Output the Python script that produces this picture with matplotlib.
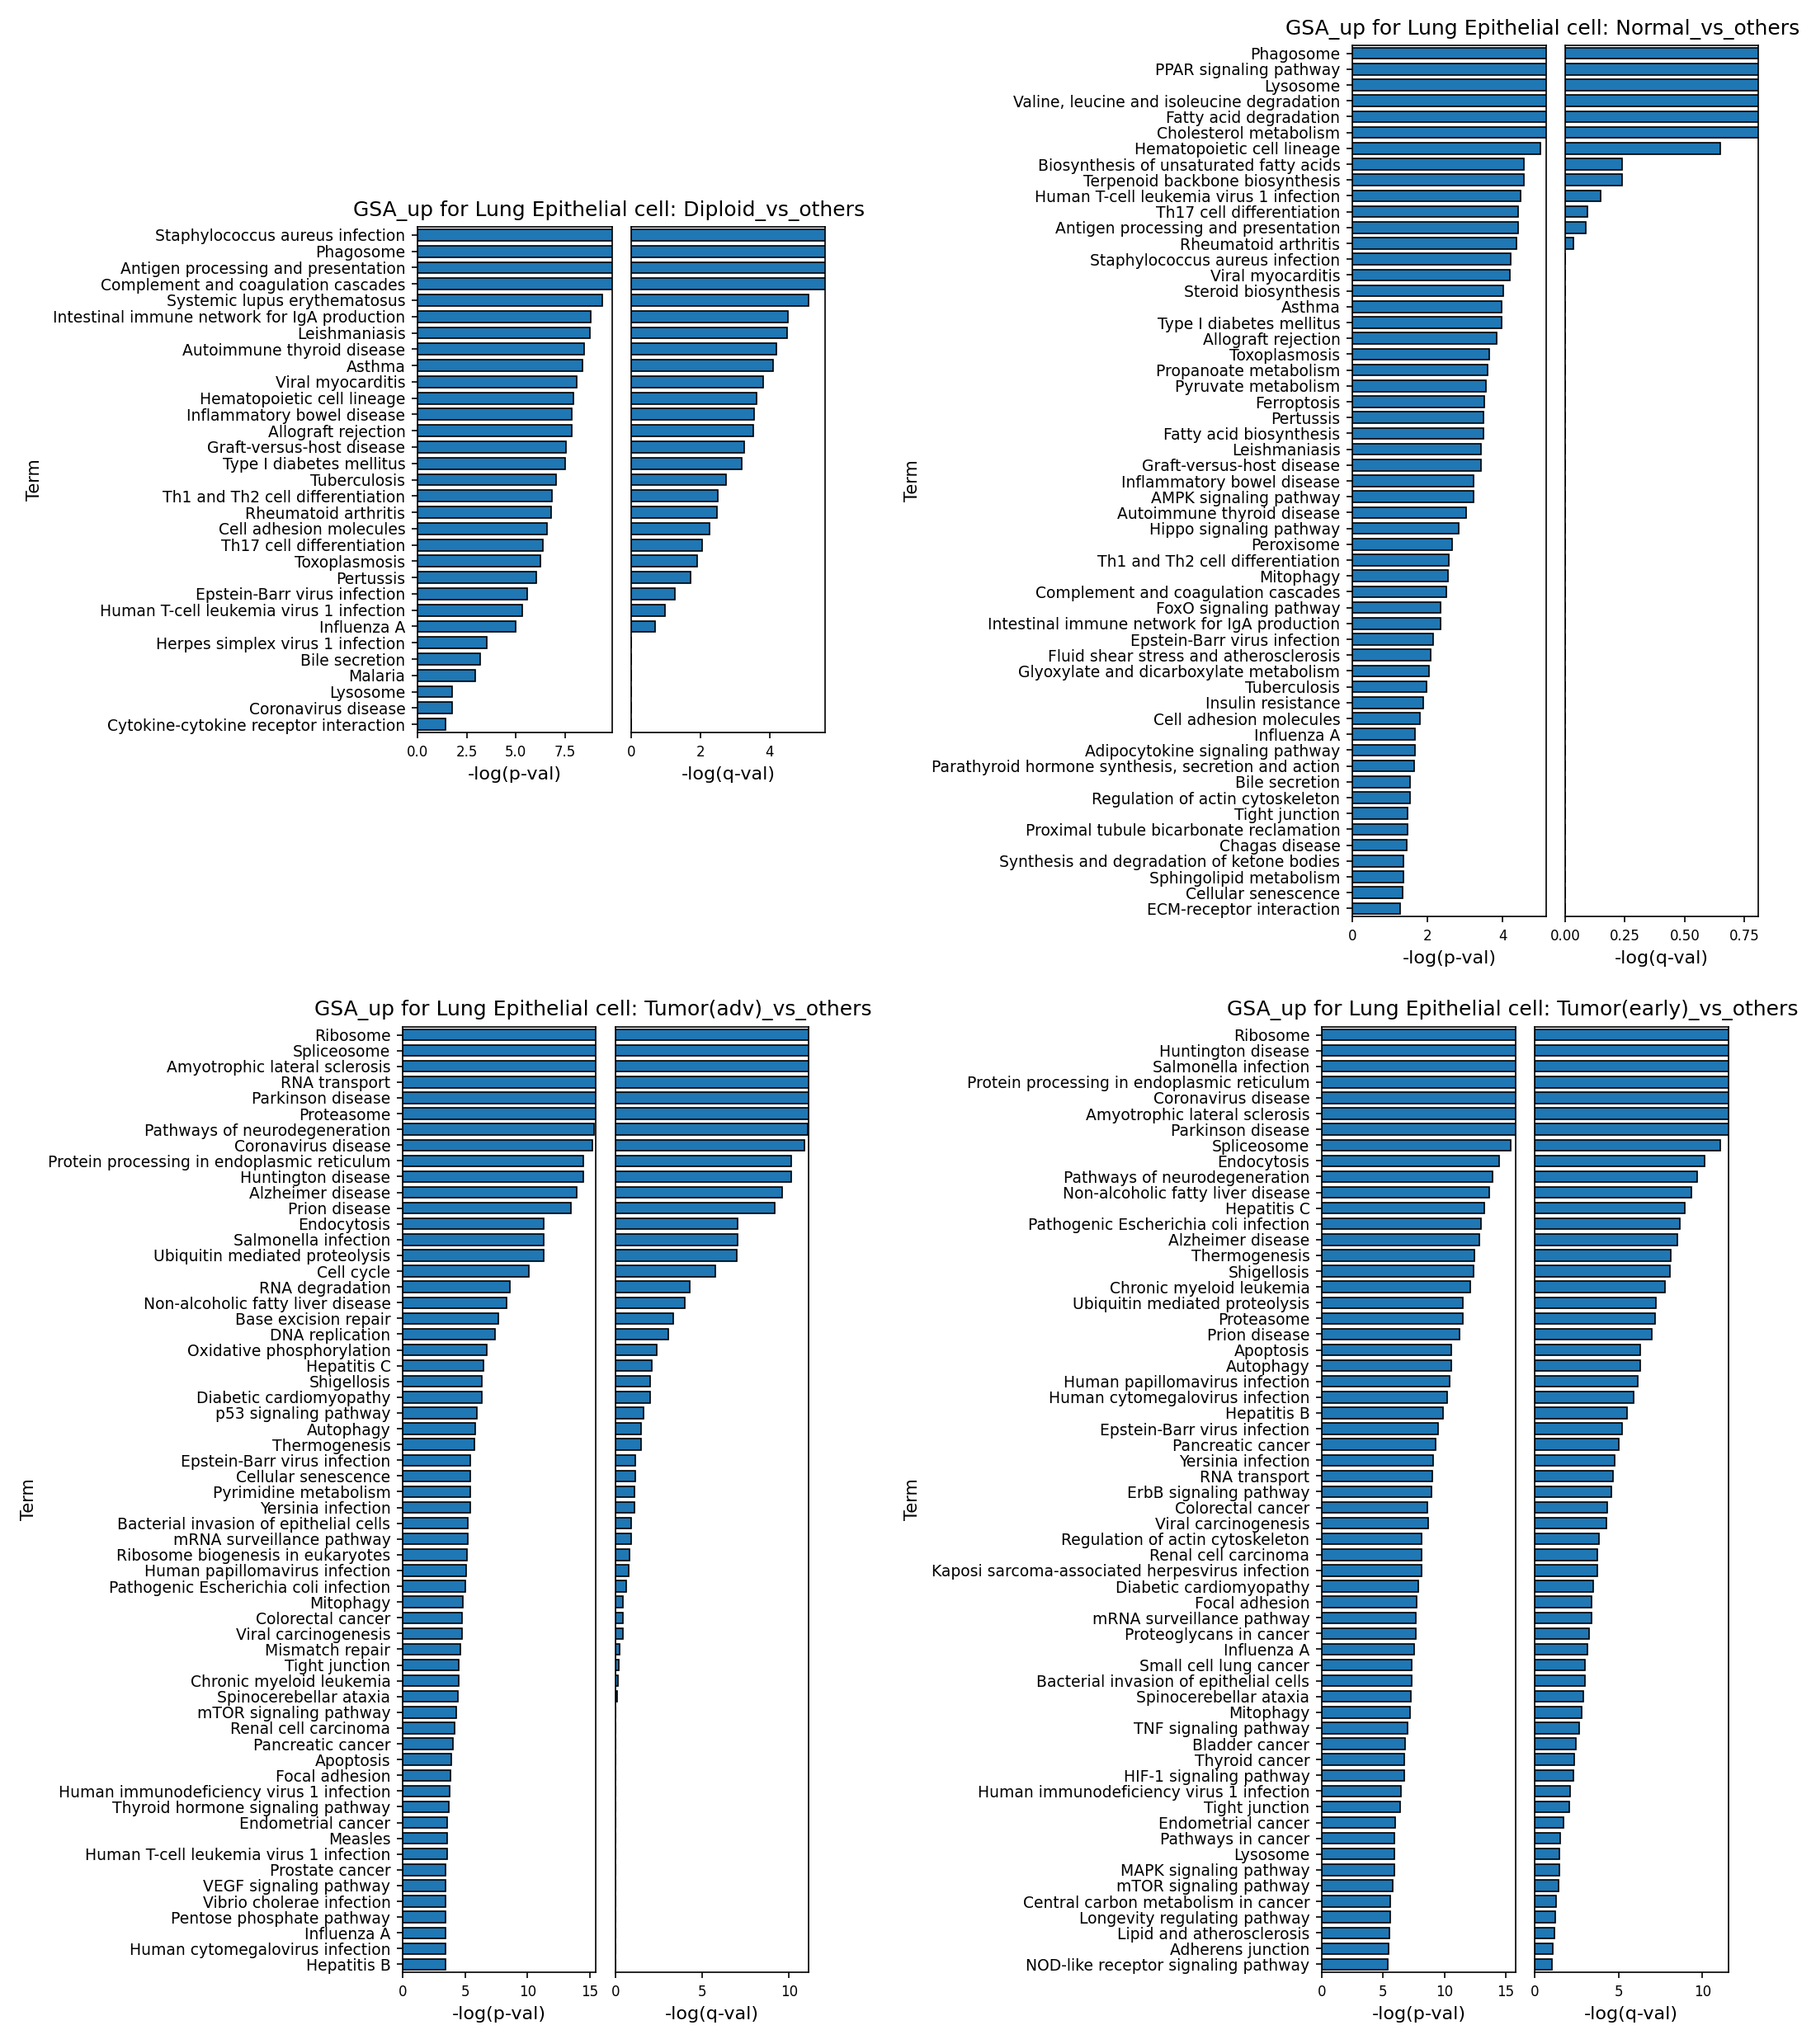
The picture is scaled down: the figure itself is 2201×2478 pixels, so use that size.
"""
GSA_up bar charts for Lung Epithelial cell (4 comparisons)
"""
import numpy as np
import matplotlib
matplotlib.use('Agg')
import matplotlib.pyplot as plt

INF = np.inf  # off-scale values (bar runs past the axis edge)

# ============================================================
# Diploid_vs_others
# ============================================================
diploid_terms = [
    'Staphylococcus aureus infection', 'Phagosome', 'Antigen processing and presentation',
    'Complement and coagulation cascades', 'Systemic lupus erythematosus',
    'Intestinal immune network for IgA production', 'Leishmaniasis', 'Autoimmune thyroid disease',
    'Asthma', 'Viral myocarditis', 'Hematopoietic cell lineage', 'Inflammatory bowel disease',
    'Allograft rejection', 'Graft-versus-host disease', 'Type I diabetes mellitus', 'Tuberculosis',
    'Th1 and Th2 cell differentiation', 'Rheumatoid arthritis', 'Cell adhesion molecules',
    'Th17 cell differentiation', 'Toxoplasmosis', 'Pertussis', 'Epstein-Barr virus infection',
    'Human T-cell leukemia virus 1 infection', 'Influenza A', 'Herpes simplex virus 1 infection',
    'Bile secretion', 'Malaria', 'Lysosome', 'Coronavirus disease',
    'Cytokine-cytokine receptor interaction',
]
diploid_p = [INF, INF, INF, INF, 9.42, 8.83, 8.77, 8.49, 8.38, 8.10, 7.93, 7.84, 7.84, 7.56,
             7.50, 7.05, 6.85, 6.79, 6.60, 6.37, 6.26, 6.03, 5.58, 5.32, 5.01, 3.54, 3.20,
             2.92, 1.75, 1.75, 1.42]
diploid_q = [INF, INF, INF, INF, 5.13, 4.53, 4.50, 4.21, 4.10, 3.82, 3.63, 3.56, 3.53, 3.27,
             3.21, 2.74, 2.50, 2.48, 2.26, 2.06, 1.92, 1.71, 1.26, 0.98, 0.69, 0, 0, 0, 0, 0, 0]

# ============================================================
# Normal_vs_others
# ============================================================
normal_terms = [
    'Phagosome', 'PPAR signaling pathway', 'Lysosome', 'Valine, leucine and isoleucine degradation',
    'Fatty acid degradation', 'Cholesterol metabolism', 'Hematopoietic cell lineage',
    'Biosynthesis of unsaturated fatty acids', 'Terpenoid backbone biosynthesis',
    'Human T-cell leukemia virus 1 infection', 'Th17 cell differentiation',
    'Antigen processing and presentation', 'Rheumatoid arthritis', 'Staphylococcus aureus infection',
    'Viral myocarditis', 'Steroid biosynthesis', 'Asthma', 'Type I diabetes mellitus',
    'Allograft rejection', 'Toxoplasmosis', 'Propanoate metabolism', 'Pyruvate metabolism',
    'Ferroptosis', 'Pertussis', 'Fatty acid biosynthesis', 'Leishmaniasis',
    'Graft-versus-host disease', 'Inflammatory bowel disease', 'AMPK signaling pathway',
    'Autoimmune thyroid disease', 'Hippo signaling pathway', 'Peroxisome',
    'Th1 and Th2 cell differentiation', 'Mitophagy', 'Complement and coagulation cascades',
    'FoxO signaling pathway', 'Intestinal immune network for IgA production',
    'Epstein-Barr virus infection', 'Fluid shear stress and atherosclerosis',
    'Glyoxylate and dicarboxylate metabolism', 'Tuberculosis', 'Insulin resistance',
    'Cell adhesion molecules', 'Influenza A', 'Adipocytokine signaling pathway',
    'Parathyroid hormone synthesis, secretion and action', 'Bile secretion',
    'Regulation of actin cytoskeleton', 'Tight junction', 'Proximal tubule bicarbonate reclamation',
    'Chagas disease', 'Synthesis and degradation of ketone bodies', 'Sphingolipid metabolism',
    'Cellular senescence', 'ECM-receptor interaction',
]
normal_p = [INF, INF, INF, INF, INF, INF, 5.00, 4.57, 4.57, 4.48, 4.42, 4.42, 4.37, 4.22, 4.19,
            4.02, 3.97, 3.97, 3.85, 3.64, 3.60, 3.55, 3.51, 3.49, 3.49, 3.43, 3.43, 3.23, 3.23,
            3.04, 2.84, 2.66, 2.56, 2.55, 2.50, 2.36, 2.35, 2.16, 2.08, 2.05, 1.98, 1.88, 1.79,
            1.67, 1.67, 1.64, 1.53, 1.53, 1.48, 1.47, 1.44, 1.37, 1.37, 1.33, 1.28]
normal_q = [INF, INF, INF, INF, INF, INF, 0.648, 0.238, 0.238, 0.148, 0.092, 0.087, 0.036] + [0] * 42

# ============================================================
# Tumor(adv)_vs_others
# ============================================================
adv_terms = [
    'Ribosome', 'Spliceosome', 'Amyotrophic lateral sclerosis', 'RNA transport', 'Parkinson disease',
    'Proteasome', 'Pathways of neurodegeneration', 'Coronavirus disease',
    'Protein processing in endoplasmic reticulum', 'Huntington disease', 'Alzheimer disease',
    'Prion disease', 'Endocytosis', 'Salmonella infection', 'Ubiquitin mediated proteolysis',
    'Cell cycle', 'RNA degradation', 'Non-alcoholic fatty liver disease', 'Base excision repair',
    'DNA replication', 'Oxidative phosphorylation', 'Hepatitis C', 'Shigellosis',
    'Diabetic cardiomyopathy', 'p53 signaling pathway', 'Autophagy', 'Thermogenesis',
    'Epstein-Barr virus infection', 'Cellular senescence', 'Pyrimidine metabolism',
    'Yersinia infection', 'Bacterial invasion of epithelial cells', 'mRNA surveillance pathway',
    'Ribosome biogenesis in eukaryotes', 'Human papillomavirus infection',
    'Pathogenic Escherichia coli infection', 'Mitophagy', 'Colorectal cancer',
    'Viral carcinogenesis', 'Mismatch repair', 'Tight junction', 'Chronic myeloid leukemia',
    'Spinocerebellar ataxia', 'mTOR signaling pathway', 'Renal cell carcinoma', 'Pancreatic cancer',
    'Apoptosis', 'Focal adhesion', 'Human immunodeficiency virus 1 infection',
    'Thyroid hormone signaling pathway', 'Endometrial cancer', 'Measles',
    'Human T-cell leukemia virus 1 infection', 'Prostate cancer', 'VEGF signaling pathway',
    'Vibrio cholerae infection', 'Pentose phosphate pathway', 'Influenza A',
    'Human cytomegalovirus infection', 'Hepatitis B',
]
adv_p = [INF, INF, INF, INF, INF, INF, 15.31, 15.18, 14.47, 14.43, 13.94, 13.49, 11.32, 11.32,
         11.27, 10.08, 8.61, 8.34, 7.68, 7.41, 6.75, 6.44, 6.35, 6.35, 5.95, 5.81, 5.77, 5.41,
         5.41, 5.41, 5.41, 5.24, 5.24, 5.15, 5.10, 5.02, 4.84, 4.75, 4.75, 4.62, 4.48, 4.48,
         4.44, 4.31, 4.17, 4.04, 3.91, 3.82, 3.77, 3.68, 3.55, 3.55, 3.55, 3.46, 3.46, 3.46,
         3.46, 3.43, 3.43, 3.43]
adv_q = [INF, INF, INF, INF, INF, INF, 11.06, 10.90, 10.13, 10.10, 9.62, 9.17, 7.02, 7.02, 6.99,
         5.74, 4.29, 4.01, 3.33, 3.04, 2.37, 2.08, 1.99, 1.99, 1.60, 1.47, 1.47, 1.12, 1.12, 1.09,
         1.09, 0.90, 0.90, 0.80, 0.74, 0.64, 0.45, 0.45, 0.42, 0.26, 0.19, 0.13, 0.10] + [0] * 17

# ============================================================
# Tumor(early)_vs_others
# ============================================================
early_terms = [
    'Ribosome', 'Huntington disease', 'Salmonella infection',
    'Protein processing in endoplasmic reticulum', 'Coronavirus disease',
    'Amyotrophic lateral sclerosis', 'Parkinson disease', 'Spliceosome', 'Endocytosis',
    'Pathways of neurodegeneration', 'Non-alcoholic fatty liver disease', 'Hepatitis C',
    'Pathogenic Escherichia coli infection', 'Alzheimer disease', 'Thermogenesis', 'Shigellosis',
    'Chronic myeloid leukemia', 'Ubiquitin mediated proteolysis', 'Proteasome', 'Prion disease',
    'Apoptosis', 'Autophagy', 'Human papillomavirus infection', 'Human cytomegalovirus infection',
    'Hepatitis B', 'Epstein-Barr virus infection', 'Pancreatic cancer', 'Yersinia infection',
    'RNA transport', 'ErbB signaling pathway', 'Colorectal cancer', 'Viral carcinogenesis',
    'Regulation of actin cytoskeleton', 'Renal cell carcinoma',
    'Kaposi sarcoma-associated herpesvirus infection', 'Diabetic cardiomyopathy', 'Focal adhesion',
    'mRNA surveillance pathway', 'Proteoglycans in cancer', 'Influenza A', 'Small cell lung cancer',
    'Bacterial invasion of epithelial cells', 'Spinocerebellar ataxia', 'Mitophagy',
    'TNF signaling pathway', 'Bladder cancer', 'Thyroid cancer', 'HIF-1 signaling pathway',
    'Human immunodeficiency virus 1 infection', 'Tight junction', 'Endometrial cancer',
    'Pathways in cancer', 'Lysosome', 'MAPK signaling pathway', 'mTOR signaling pathway',
    'Central carbon metabolism in cancer', 'Longevity regulating pathway',
    'Lipid and atherosclerosis', 'Adherens junction', 'NOD-like receptor signaling pathway',
]
early_p = [INF, INF, INF, INF, INF, INF, INF, 15.38, 14.43, 13.95, 13.62, 13.24, 12.96, 12.81,
           12.43, 12.34, 12.10, 11.53, 11.49, 11.25, 10.58, 10.58, 10.44, 10.20, 9.87, 9.49,
           9.30, 9.11, 9.02, 8.92, 8.59, 8.64, 8.16, 8.12, 8.12, 7.88, 7.74, 7.69, 7.64, 7.50,
           7.36, 7.36, 7.26, 7.17, 7.02, 6.79, 6.69, 6.69, 6.45, 6.41, 5.98, 5.89, 5.89, 5.89,
           5.79, 5.60, 5.60, 5.51, 5.46, 5.41]
early_q = [INF, INF, INF, INF, INF, INF, INF, 11.08, 10.14, 9.69, 9.34, 8.96, 8.65, 8.51, 8.13,
           8.06, 7.78, 7.22, 7.19, 6.98, 6.28, 6.28, 6.15, 5.90, 5.49, 5.21, 5.00, 4.79, 4.69,
           4.55, 4.31, 4.27, 3.82, 3.72, 3.72, 3.51, 3.40, 3.37, 3.26, 3.16, 3.02, 2.99, 2.92,
           2.78, 2.67, 2.47, 2.36, 2.29, 2.12, 2.08, 1.70, 1.53, 1.49, 1.49, 1.42, 1.28, 1.25,
           1.18, 1.08, 1.04]

W, H, DPI = 2201, 2478, 150
BAR_COLOR = '#1f77b4'


def rect(x0, x1, yt, yb):
    return [x0 / W, 1 - yb / H, (x1 - x0) / W, (yb - yt) / H]


def draw_panel(fig, title, terms, pv, qv, box, term_x, xlims):
    (px0, px1), (qx0, qx1), (yt, yb) = box
    axp = fig.add_axes(rect(px0, px1, yt, yb))
    axq = fig.add_axes(rect(qx0, qx1, yt, yb), sharey=axp)
    y = np.arange(len(terms))
    for ax, vals, lim, lab in ((axp, pv, xlims[0], '-log(p-val)'),
                               (axq, qv, xlims[1], '-log(q-val)')):
        vals = np.asarray(vals, dtype=float)
        w = np.where(np.isinf(vals), lim * 2, vals)  # off-scale bars are clipped at the edge
        ax.barh(y, w, height=0.7, color=BAR_COLOR, edgecolor='black', linewidth=0.8)
        ax.set_xlim(0, lim)
        ax.set_xlabel(lab, fontsize=10.7)
        ax.tick_params(axis='x', labelsize=8)
    axp.set_yticks(y)
    axp.set_yticklabels(terms, fontsize=9)
    axp.set_ylim(len(terms) - 0.5, -0.5)
    axq.tick_params(axis='y', left=False, labelleft=False)

    cx = (px0 + qx1) / 2 - 15
    fig.text(cx / W, 1 - (yt - 20) / H, title, ha='center', va='center', fontsize=12)
    fig.text(term_x / W, 1 - (yt + yb) / 2 / H, 'Term', rotation=90,
             ha='center', va='center', fontsize=10)


fig = plt.figure(figsize=(W / DPI, H / DPI), dpi=DPI)

draw_panel(fig, 'GSA_up for Lung Epithelial cell: Diploid_vs_others',
           diploid_terms, diploid_p, diploid_q,
           ((506, 742), (765, 1000), (275, 888)), 42, (9.91, 5.61))
draw_panel(fig, 'GSA_up for Lung Epithelial cell: Normal_vs_others',
           normal_terms, normal_p, normal_q,
           ((1639, 1874), (1897, 2131), (55, 1111)), 1106, (5.16, 0.808))
draw_panel(fig, 'GSA_up for Lung Epithelial cell: Tumor(adv)_vs_others',
           adv_terms, adv_p, adv_q,
           ((488, 722), (746, 980), (1245, 2391)), 35, (15.45, 11.12))
draw_panel(fig, 'GSA_up for Lung Epithelial cell: Tumor(early)_vs_others',
           early_terms, early_p, early_q,
           ((1602, 1837), (1860, 2094.5), (1245, 2391)), 1106, (15.8, 11.53))

plt.savefig('out.png', dpi=DPI)
plt.close()
print("saved out.png")
